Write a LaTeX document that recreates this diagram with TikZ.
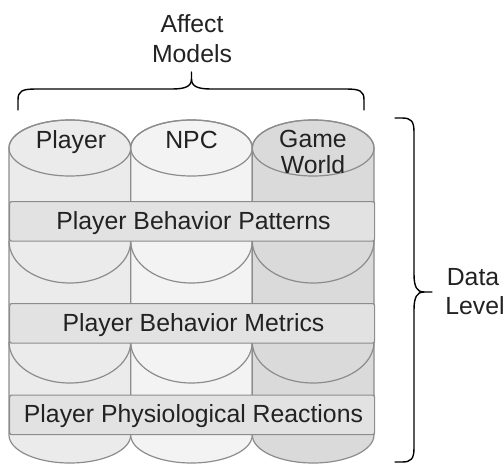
\documentclass[tikz,border=0pt]{standalone}
\usepackage{fontspec}
\setmainfont{Liberation Sans}
\definecolor{edge}{HTML}{8C8C8C}
\definecolor{colA}{HTML}{EBEBEB}
\definecolor{colB}{HTML}{F3F3F3}
\definecolor{colC}{HTML}{DADADA}
\definecolor{bandfill}{HTML}{E2E2E2}
\definecolor{ink}{HTML}{222222}
\begin{document}
\begin{tikzpicture}[x=1pt,y=1pt,
  outl/.style={draw=edge,line width=1.2pt},
  bandbox/.style={draw=edge,line width=1.2pt,fill=bandfill,rounded corners=2pt,
    minimum width=365pt,minimum height=39.5pt,inner sep=0pt,anchor=north west},
  lbl/.style={anchor=base,inner sep=0pt,font=\fontsize{24.8}{29}\selectfont,text=ink},
  brace/.style={draw=black,line width=1.4pt,line cap=round,line join=round}]
\useasboundingbox (0,0) rectangle (504,-464);
% cylinder columns
\foreach \a/\b/\col in {9/130.7/colA,130.7/252.3/colB,252.3/374/colC}{
  \pgfmathsetmacro\cx{(\a+\b)/2}
  \pgfmathsetmacro\rx{(\b-\a)/2}
  \path[outl,fill=\col] (\a,-148) -- (\a,-435)
     arc[start angle=180,end angle=360,x radius=\rx,y radius=28]
     -- (\b,-148)
     arc[start angle=0,end angle=180,x radius=\rx,y radius=28] -- cycle;
  \draw[outl] (\cx,-148) ellipse[x radius=\rx,y radius=28];
  \draw[outl] (\a,-241) arc[start angle=180,end angle=360,x radius=\rx,y radius=42];
  \draw[outl] (\a,-342) arc[start angle=180,end angle=360,x radius=\rx,y radius=41];
}
% bands
\node[bandbox] (band1) at (9,-201) {};
\node[bandbox] (band2) at (9,-303) {};
\node[bandbox] (band3) at (9,-394.5) {};
% labels
\node[lbl] (player) at (71,-148) {Player};
\node[lbl] (npc) at (191.5,-148) {NPC};
\node[lbl] (game) at (313,-147) {Game};
\node[lbl] (world) at (313,-173) {World};
\node[lbl] (t1) at (193.5,-229) {Player Behavior Patterns};
\node[lbl] (t2) at (193.5,-331) {Player Behavior Metrics};
\node[lbl] (t3) at (193.5,-422) {Player Physiological Reactions};
\node[lbl] (aff1) at (192,-32) {Affect};
\node[lbl] (aff2) at (192,-62) {Models};
\node[lbl] (dat1) at (473,-285) {Data};
\node[lbl] (dat2) at (475,-314) {Level};
% top brace
\draw[brace] (18,-110) -- (18,-100) .. controls (18,-91) and (22,-89) .. (36,-89)
   -- (172,-89) .. controls (186,-89) and (191.5,-86) .. (191.5,-79) -- (191.5,-72);
\draw[brace] (364,-110) -- (364,-100) .. controls (364,-91) and (360,-89) .. (346,-89)
   -- (211,-89) .. controls (197,-89) and (191.5,-86) .. (191.5,-79);
% right brace
\draw[brace] (395,-118) -- (402,-118) .. controls (411,-118) and (414,-121) .. (414,-132)
   -- (414,-274) .. controls (414,-287) and (417,-292) .. (424,-292) -- (432,-292);
\draw[brace] (395,-462) -- (402,-462) .. controls (411,-462) and (414,-459) .. (414,-448)
   -- (414,-310) .. controls (414,-297) and (417,-292) .. (424,-292);
\end{tikzpicture}
\end{document}
